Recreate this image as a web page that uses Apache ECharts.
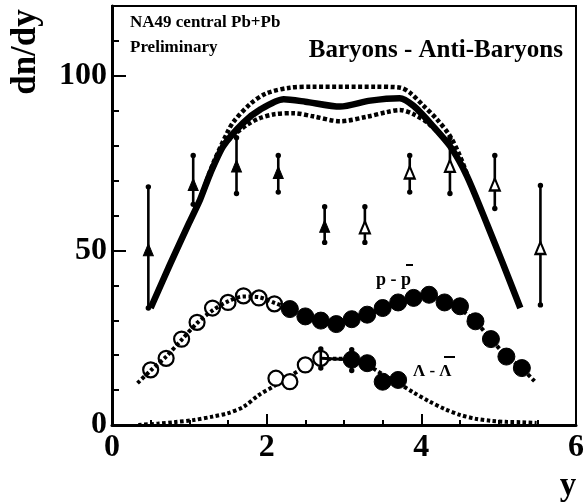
<!DOCTYPE html>
<html><head><meta charset="utf-8">
<script src="https://cdn.jsdelivr.net/npm/echarts@6/dist/echarts.min.js"></script>
<style>html,body{margin:0;padding:0;background:#fff}#c{width:584px;height:502px}</style>
</head><body><div id="c"></div>
<script>
const FONT = '"Liberation Serif", "Times New Roman", serif';

// Tick labels
const xTickLabels = [0, 2, 4, 6];
const yTickLabels = [0, 50, 100];

// Baryons - Anti-Baryons model band (solid centre, dotted upper / lower)
const bandMidX = [0.5, 0.75, 1.0, 1.14, 1.27, 1.44, 1.7, 1.92, 2.22, 2.5, 2.95, 3.34, 3.72, 3.9, 4.11, 4.37, 4.59, 4.85, 5.05, 5.28];
const bandMidY = [33.5, 46.0, 58.0, 64.6, 72.0, 79.9, 86.6, 90.4, 93.3, 92.6, 91.2, 92.9, 93.6, 91.4, 86.6, 79.9, 71.3, 57.5, 46.5, 33.5];
const bandHighX = [1.14, 1.3, 1.49, 1.57, 1.79, 2.0, 2.3, 2.6, 3.0, 3.4, 3.73, 3.85, 4.03, 4.2, 4.37, 4.5, 4.6];
const bandHighY = [64.6, 74.5, 83.7, 86.8, 92.0, 95.0, 96.6, 96.9, 96.9, 96.9, 96.6, 95.2, 91.4, 87.6, 82.8, 77.0, 71.3];
const bandLowX = [1.14, 1.44, 1.6, 1.75, 1.9, 2.1, 2.35, 2.6, 2.95, 3.3, 3.55, 3.72, 3.9, 4.1, 4.37, 4.6];
const bandLowY = [64.6, 79.9, 83.5, 86.0, 87.8, 89.0, 89.3, 88.4, 87.0, 88.3, 89.6, 90.2, 89.0, 86.2, 79.9, 71.3];

// Triangles (filled = measured, open = reflected)
const triFullX = [0.47, 1.05, 1.61, 2.15, 2.75];
const triFullY = [50.2, 68.9, 74.2, 72.3, 56.9];
const triFullLow = [33.5, 63.2, 66.3, 66.7, 52.3];
const triFullHigh = [68.2, 77.2, 82.3, 77.2, 62.5];
const triOpenX = [3.27, 3.85, 4.37, 4.95, 5.54];
const triOpenY = [56.6, 72.3, 74.2, 68.9, 50.7];
const triOpenLow = [52.3, 66.7, 66.3, 62.0, 34.4];
const triOpenHigh = [62.5, 77.2, 82.3, 77.2, 68.6];

// p - pbar
const ppOpenX = [0.5, 0.7, 0.9, 1.1, 1.3, 1.5, 1.7, 1.9, 2.1];
const ppOpenY = [15.8, 19.1, 24.6, 29.4, 33.5, 35.1, 37.0, 36.4, 34.7];
const ppFullX = [2.3, 2.5, 2.7, 2.9, 3.1, 3.3, 3.5, 3.7, 3.9, 4.1, 4.3, 4.5, 4.7, 4.9, 5.1, 5.3];
const ppFullY = [33.2, 31.1, 29.9, 28.9, 30.3, 31.6, 33.5, 35.1, 36.4, 37.3, 35.1, 34.0, 29.7, 24.6, 19.6, 16.3];
const ppCurveX = [0.33, 0.5, 0.7, 0.9, 1.1, 1.3, 1.5, 1.7, 1.9, 2.1, 2.3, 2.5, 2.7, 2.9, 3.1, 3.3, 3.5, 3.7, 3.9, 4.1, 4.3, 4.5, 4.7, 4.9, 5.1, 5.3, 5.47];
const ppCurveY = [12.0, 15.6, 19.6, 24.4, 29.2, 32.8, 35.4, 36.8, 36.6, 35.0, 33.2, 31.2, 29.8, 29.0, 30.2, 31.6, 33.4, 35.0, 36.3, 37.0, 35.6, 33.2, 29.6, 24.6, 19.8, 16.2, 12.4];

// Lambda - Lambdabar
const laOpenX = [2.12, 2.3, 2.5, 2.7];
const laOpenY = [13.4, 12.4, 17.2, 19.1];
const laFullX = [3.1, 3.3, 3.5, 3.7];
const laFullY = [18.7, 17.7, 12.4, 12.9];
const laErrX = [2.7, 3.1];
const laErrLow = [16.3, 15.6];
const laErrHigh = [21.8, 21.6];
const laCurveX = [0.34, 0.6, 0.8, 1.05, 1.3, 1.5, 1.7, 1.9, 2.1, 2.3, 2.5, 2.7, 2.9, 3.1, 3.3, 3.5, 3.7, 3.9, 4.1, 4.3, 4.5, 4.7, 4.9, 5.1, 5.3, 5.49];
const laCurveY = [0.0, 0.4, 0.8, 1.4, 2.4, 3.4, 5.2, 8.6, 11.2, 14.0, 16.6, 18.3, 19.0, 18.7, 17.2, 14.5, 12.0, 9.3, 6.8, 4.6, 2.9, 1.8, 1.2, 0.9, 0.8, 0.6];

const pairs = (xs, ys) => xs.map((x, i) => [x, ys[i]]);

function errorBars(xs, lows, highs, z) {
  return {
    type: 'custom', z: z, silent: true,
    data: xs.map((x, i) => [x, lows[i], highs[i]]),
    encode: { x: 0, y: [1, 2] },
    renderItem(params, api) {
      const t = api.coord([api.value(0), api.value(2)]);
      const b = api.coord([api.value(0), api.value(1)]);
      return { type: 'group', children: [
        { type: 'line', shape: { x1: t[0], y1: t[1], x2: b[0], y2: b[1] }, style: { stroke: '#000', lineWidth: 2.6 } },
        { type: 'circle', shape: { cx: t[0], cy: t[1], r: 2.7 }, style: { fill: '#000' } },
        { type: 'circle', shape: { cx: b[0], cy: b[1], r: 2.7 }, style: { fill: '#000' } }
      ] };
    }
  };
}

function curve(xs, ys, width, dash, z, smooth) {
  return {
    type: 'line', data: pairs(xs, ys), showSymbol: false, symbol: 'none', z: z, smooth: smooth,
    lineStyle: { color: '#000', width: width, type: dash, cap: 'butt', opacity: 1 }, silent: true
  };
}

function markers(xs, ys, symbol, size, filled, z) {
  return {
    type: 'scatter', data: pairs(xs, ys), symbol: symbol, symbolSize: size, z: z, silent: true,
    itemStyle: filled
      ? { color: '#000', borderColor: '#000', borderWidth: 1, opacity: 1 }
      : { color: '#fff', borderColor: '#000', borderWidth: 2.2, opacity: 1 }
  };
}

const chart = echarts.init(document.getElementById('c'), null, { renderer: 'canvas' });
const axisFont = { fontFamily: FONT, fontWeight: 'bold', fontSize: 32, color: '#000' };

// overbar helper for labels (drawn relative to the label text)
function barLabel(text, x, y, size, barFrom, barTo, barY) {
  return { type: 'group', x: x, y: y, children: [
    { type: 'text', style: { text: text, font: 'bold ' + size + 'px ' + FONT, fill: '#000', textAlign: 'left', textVerticalAlign: 'middle' } },
    { type: 'line', shape: { x1: barFrom, y1: barY, x2: barTo, y2: barY }, style: { stroke: '#000', lineWidth: 2 } }
  ] };
}

chart.setOption({
  animation: false,
  backgroundColor: '#fff',
  grid: { left: 112, right: 8, top: 6, bottom: 77, show: true, borderColor: '#000', borderWidth: 2, containLabel: false, outerBoundsMode: 'none' },
  xAxis: {
    type: 'value', min: 0, max: 6, interval: 2,
    axisLine: { show: true, onZero: false, lineStyle: { color: '#000', width: 3 } },
    axisTick: { show: true, inside: true, length: 11, lineStyle: { color: '#000', width: 2 } },
    minorTick: { show: true, splitNumber: 4, length: 5, lineStyle: { color: '#000', width: 2 } },
    splitLine: { show: false },
    axisLabel: Object.assign({ margin: 7, customValues: xTickLabels }, axisFont)
  },
  yAxis: [{
    type: 'value', min: 0, max: 120, interval: 10,
    axisLine: { show: true, onZero: false, lineStyle: { color: '#000', width: 3 } },
    axisTick: { show: true, inside: true, length: 7, lineStyle: { color: '#000', width: 2 } },
    splitLine: { show: false },
    axisLabel: Object.assign({ margin: 5, customValues: yTickLabels }, axisFont)
  }, {
    type: 'value', min: 0, max: 120, interval: 50, position: 'left',
    axisLine: { show: false },
    axisTick: { show: true, inside: true, length: 14, customValues: yTickLabels, lineStyle: { color: '#000', width: 2 } },
    splitLine: { show: false },
    axisLabel: { show: false }
  }],
  graphic: [
    { type: 'text', x: 26, y: 52, rotation: Math.PI / 2, style: { text: 'dn/dy', font: 'bold 35px ' + FONT, fill: '#000', textAlign: 'center', textVerticalAlign: 'middle' } },
    { type: 'text', x: 568, y: 486, style: { text: 'y', font: 'bold 33px ' + FONT, fill: '#000', textAlign: 'center', textVerticalAlign: 'middle' } },
    { type: 'text', x: 130, y: 23, style: { text: 'NA49 central Pb+Pb', font: 'bold 17px ' + FONT, fill: '#000', textAlign: 'left', textVerticalAlign: 'middle' } },
    { type: 'text', x: 130, y: 48, style: { text: 'Preliminary', font: 'bold 17px ' + FONT, fill: '#000', textAlign: 'left', textVerticalAlign: 'middle' } },
    { type: 'text', x: 563, y: 51, style: { text: 'Baryons - Anti-Baryons', font: 'bold 25px ' + FONT, fill: '#000', textAlign: 'right', textVerticalAlign: 'middle' } },
    barLabel('p - p', 376, 280, 18, 30, 37, -15),
    barLabel('\u039B - \u039B', 413, 372, 17, 31, 42, -15)
  ],
  series: [
    curve(bandMidX, bandMidY, 6.5, 'solid', 3, 0.25),
    curve(bandHighX, bandHighY, 4.5, [4, 2.5], 3, 0.3),
    curve(bandLowX, bandLowY, 4.5, [4, 2.5], 3, 0.3),
    curve(laCurveX, laCurveY, 4, [3.5, 2.5], 2, 0.3),
    markers(ppOpenX, ppOpenY, 'circle', 15, false, 4),
    curve(ppCurveX, ppCurveY, 4, [3.5, 2.5], 5, 0.3),
    markers(ppFullX, ppFullY, 'circle', 17, true, 6),
    markers(laOpenX, laOpenY, 'circle', 15, false, 4),
    { type: 'line', data: pairs(laErrX, [laOpenY[3], laFullY[0]]), showSymbol: false, symbol: 'none', z: 5, lineStyle: { color: '#000', width: 3 }, silent: true },
    errorBars(laErrX, laErrLow, laErrHigh, 5),
    markers(laFullX, laFullY, 'circle', 17, true, 6),
    errorBars(triFullX, triFullLow, triFullHigh, 7),
    errorBars(triOpenX, triOpenLow, triOpenHigh, 7),
    markers(triFullX, triFullY, 'triangle', [10, 12], true, 8),
    markers(triOpenX, triOpenY, 'triangle', [10, 12], false, 8)
  ]
});
</script></body></html>
